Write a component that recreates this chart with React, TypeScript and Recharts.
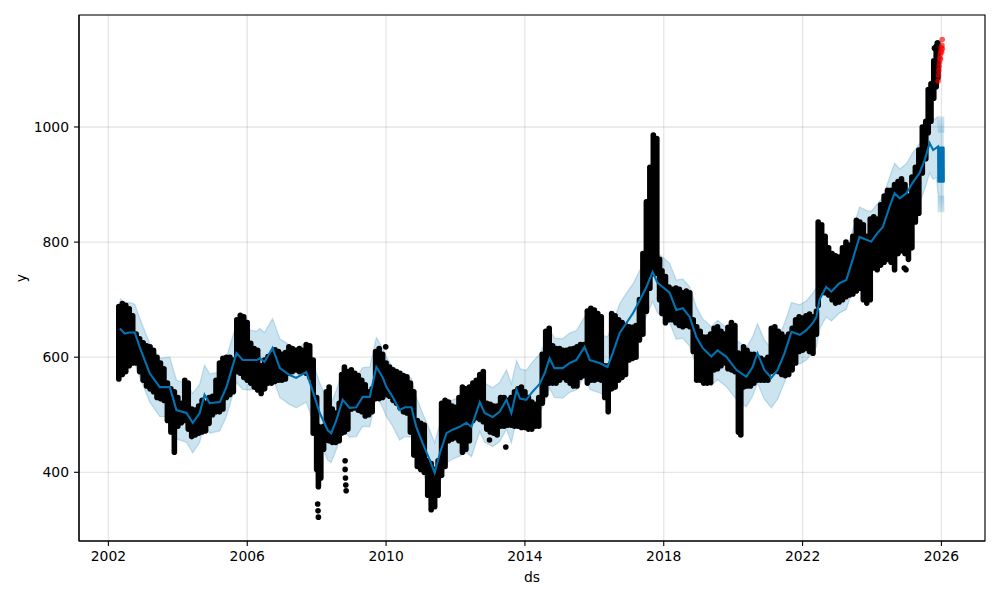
import React from 'react';
import { ComposedChart, XAxis, YAxis, CartesianGrid, Bar, Line, Area, Scatter, ReferenceArea } from 'recharts';

const X_TICKS = [2002, 2006, 2010, 2014, 2018, 2022, 2026];
const Y_TICKS = [400, 600, 800, 1000];
const X_DOMAIN: [number, number] = [2001.153, 2027.256];
const Y_DOMAIN: [number, number] = [280.6, 1194.6];

// observed history: [decimal year, low, high] of the daily points around that date
const observedRanges: [number, number, number][] = [
  [2002.30, 562, 688], [2002.40, 570, 693], [2002.50, 575, 690], [2002.60, 585, 684], [2002.70, 590, 672],
  [2002.80, 590, 640], [2002.90, 575, 632], [2003.00, 560, 625], [2003.10, 550, 620], [2003.20, 545, 618],
  [2003.30, 540, 612], [2003.40, 530, 600], [2003.50, 528, 590], [2003.60, 525, 580], [2003.70, 490, 555],
  [2003.80, 470, 545], [2003.90, 435, 540], [2004.00, 480, 530], [2004.10, 486, 520], [2004.20, 490, 560],
  [2004.30, 475, 555], [2004.40, 462, 510], [2004.50, 465, 508], [2004.60, 468, 515], [2004.70, 470, 525],
  [2004.80, 472, 520], [2004.90, 485, 530], [2005.00, 500, 532], [2005.10, 505, 560], [2005.20, 505, 590],
  [2005.30, 510, 598], [2005.40, 530, 600], [2005.50, 535, 600], [2005.60, 540, 595], [2005.70, 575, 665],
  [2005.80, 572, 673], [2005.90, 565, 670], [2006.00, 560, 660], [2006.10, 555, 624], [2006.20, 548, 615],
  [2006.30, 543, 612], [2006.40, 537, 585], [2006.50, 545, 595], [2006.60, 555, 601], [2006.70, 555, 605],
  [2006.80, 558, 613], [2006.90, 560, 610], [2007.00, 560, 605], [2007.10, 562, 608], [2007.20, 572, 618],
  [2007.30, 575, 615], [2007.40, 578, 612], [2007.50, 575, 615], [2007.60, 575, 612], [2007.70, 572, 622],
  [2007.80, 565, 620], [2007.90, 468, 595], [2008.00, 405, 530], [2008.05, 375, 480], [2008.12, 390, 470],
  [2008.20, 440, 480], [2008.28, 456, 540], [2008.36, 455, 548], [2008.45, 452, 510], [2008.55, 452, 503],
  [2008.65, 455, 520], [2008.72, 468, 570], [2008.80, 470, 583], [2008.90, 475, 575], [2009.00, 510, 578],
  [2009.10, 512, 572], [2009.20, 508, 568], [2009.30, 505, 560], [2009.40, 498, 552], [2009.50, 500, 540],
  [2009.60, 505, 545], [2009.70, 528, 610], [2009.80, 528, 615], [2009.90, 530, 605], [2010.00, 535, 590],
  [2010.10, 532, 583], [2010.20, 525, 578], [2010.30, 520, 575], [2010.40, 512, 572], [2010.50, 505, 568],
  [2010.60, 503, 566], [2010.70, 470, 555], [2010.80, 430, 540], [2010.90, 410, 490], [2011.00, 405, 485],
  [2011.10, 400, 482], [2011.20, 360, 420], [2011.30, 335, 415], [2011.40, 340, 405], [2011.50, 360, 420],
  [2011.60, 395, 520], [2011.70, 410, 525], [2011.80, 455, 522], [2011.90, 458, 515], [2012.00, 460, 513],
  [2012.10, 455, 530], [2012.20, 435, 548], [2012.30, 440, 545], [2012.40, 455, 548], [2012.50, 490, 555],
  [2012.60, 495, 560], [2012.70, 492, 570], [2012.80, 488, 575], [2012.90, 475, 520], [2013.00, 470, 518],
  [2013.10, 468, 515], [2013.20, 465, 515], [2013.30, 480, 530], [2013.40, 480, 530], [2013.50, 482, 525],
  [2013.60, 482, 530], [2013.70, 480, 540], [2013.80, 480, 545], [2013.90, 478, 548], [2014.00, 478, 540],
  [2014.10, 475, 530], [2014.20, 475, 522], [2014.30, 480, 518], [2014.40, 480, 530], [2014.50, 520, 605],
  [2014.60, 535, 645], [2014.70, 555, 650], [2014.80, 555, 620], [2014.90, 555, 615], [2015.00, 560, 615],
  [2015.10, 565, 612], [2015.20, 560, 612], [2015.30, 555, 614], [2015.40, 550, 615], [2015.50, 550, 618],
  [2015.60, 565, 622], [2015.70, 568, 622], [2015.80, 555, 680], [2015.90, 560, 685], [2016.00, 560, 682],
  [2016.10, 562, 676], [2016.20, 560, 670], [2016.30, 530, 585], [2016.40, 505, 585], [2016.50, 545, 676],
  [2016.60, 548, 672], [2016.70, 560, 665], [2016.80, 565, 660], [2016.90, 570, 655], [2017.00, 595, 653],
  [2017.10, 598, 652], [2017.20, 600, 655], [2017.30, 630, 700], [2017.40, 640, 780], [2017.50, 680, 870],
  [2017.60, 720, 930], [2017.70, 745, 986], [2017.80, 746, 980], [2017.88, 700, 770], [2017.95, 676, 750],
  [2018.05, 660, 740], [2018.15, 665, 722], [2018.25, 665, 718], [2018.35, 660, 720], [2018.45, 655, 718],
  [2018.55, 653, 712], [2018.65, 655, 715], [2018.75, 653, 712], [2018.85, 610, 665], [2018.95, 560, 653],
  [2019.05, 560, 645], [2019.15, 555, 635], [2019.25, 555, 635], [2019.35, 556, 640], [2019.45, 578, 650],
  [2019.55, 580, 653], [2019.65, 585, 645], [2019.75, 590, 640], [2019.85, 580, 652], [2019.95, 578, 660],
  [2020.05, 575, 655], [2020.15, 470, 607], [2020.22, 465, 600], [2020.30, 548, 618], [2020.40, 550, 612],
  [2020.50, 550, 605], [2020.60, 555, 605], [2020.70, 560, 600], [2020.80, 560, 598], [2020.90, 560, 595],
  [2021.00, 560, 600], [2021.10, 575, 650], [2021.20, 578, 653], [2021.30, 575, 645], [2021.40, 570, 640],
  [2021.50, 568, 635], [2021.60, 570, 640], [2021.70, 578, 650], [2021.80, 590, 665], [2021.90, 610, 670],
  [2022.00, 612, 668], [2022.10, 615, 672], [2022.20, 610, 675], [2022.30, 607, 670], [2022.40, 640, 680],
  [2022.45, 690, 835], [2022.55, 715, 830], [2022.65, 712, 810], [2022.75, 708, 790], [2022.85, 700, 780],
  [2022.95, 694, 776], [2023.05, 696, 774], [2023.15, 700, 790], [2023.25, 705, 800], [2023.35, 708, 795],
  [2023.45, 710, 810], [2023.55, 715, 838], [2023.65, 720, 835], [2023.75, 700, 830], [2023.85, 694, 810],
  [2023.95, 700, 840], [2024.05, 755, 844], [2024.15, 752, 840], [2024.25, 760, 865], [2024.35, 765, 880],
  [2024.45, 770, 890], [2024.55, 765, 890], [2024.65, 752, 900], [2024.75, 780, 905], [2024.85, 785, 910],
  [2024.95, 780, 900], [2025.05, 770, 880], [2025.15, 790, 913], [2025.25, 835, 930], [2025.35, 850, 960],
  [2025.45, 920, 1000], [2025.55, 945, 1010], [2025.62, 990, 1065], [2025.70, 1010, 1075], [2025.78, 1050, 1115],
  [2025.85, 1070, 1140], [2025.90, 1085, 1146],
];

// isolated observed points
const observedPoints: [number, number][] = [
  [2008.03, 345], [2008.04, 333], [2008.05, 322], [2008.82, 420], [2008.82, 405], [2008.83, 390],
  [2008.84, 378], [2008.85, 368], [2009.99, 618], [2012.98, 456], [2013.45, 444], [2020.20, 468],
  [2024.93, 755], [2024.98, 752], [2025.80, 1137], [2025.88, 1146],
];

// actual values in the forecast window (red)
const actualPoints: [number, number][] = [
  [2025.905, 1080], [2025.915, 1090], [2025.925, 1098], [2025.935, 1105], [2025.945, 1112],
  [2025.955, 1120], [2025.965, 1126], [2025.975, 1118], [2025.985, 1132], [2025.995, 1138],
  [2026.005, 1130], [2026.015, 1142], [2026.025, 1152], [2026.030, 1136],
];

// fitted forecast: [decimal year, yhat, yhat_lower, yhat_upper]
const fitted: [number, number, number, number][] = [
  [2002.33, 650, 598, 702], [2002.47, 641, 590, 694], [2002.61, 643, 592, 695], [2002.76, 643, 590, 692],
  [2002.90, 618, 566, 668], [2003.19, 572, 522, 624], [2003.48, 548, 497, 598], [2003.77, 548, 496, 600],
  [2003.96, 508, 458, 560], [2004.25, 503, 452, 554], [2004.43, 486, 434, 537], [2004.63, 503, 452, 553],
  [2004.77, 535, 484, 586], [2004.92, 520, 468, 571], [2005.21, 522, 472, 574], [2005.40, 548, 497, 600],
  [2005.69, 607, 556, 658], [2005.87, 595, 544, 646], [2006.07, 595, 543, 647], [2006.27, 595, 545, 645],
  [2006.36, 598, 546, 650], [2006.50, 592, 540, 643], [2006.73, 616, 565, 667], [2006.94, 581, 530, 632],
  [2007.22, 569, 518, 621], [2007.41, 564, 512, 615], [2007.70, 574, 522, 625], [2007.85, 548, 497, 600],
  [2008.09, 503, 452, 555], [2008.32, 473, 421, 524], [2008.42, 468, 417, 520], [2008.57, 491, 440, 543],
  [2008.75, 526, 474, 577], [2008.95, 512, 461, 563], [2009.14, 513, 462, 565], [2009.33, 531, 480, 582],
  [2009.53, 531, 479, 583], [2009.72, 583, 532, 634], [2009.90, 565, 513, 616], [2010.01, 548, 497, 600],
  [2010.19, 531, 480, 583], [2010.39, 508, 456, 559], [2010.54, 513, 462, 565], [2010.73, 513, 461, 564],
  [2010.87, 479, 428, 531], [2011.05, 451, 400, 503], [2011.26, 421, 370, 473], [2011.40, 399, 348, 451],
  [2011.55, 433, 382, 485], [2011.74, 468, 416, 519], [2011.92, 474, 423, 526], [2012.12, 479, 428, 530],
  [2012.31, 486, 435, 538], [2012.46, 479, 427, 531], [2012.70, 522, 471, 573], [2012.84, 503, 452, 555],
  [2013.07, 496, 445, 547], [2013.27, 505, 453, 556], [2013.47, 526, 475, 578], [2013.61, 503, 451, 554],
  [2013.76, 543, 492, 594], [2013.86, 528, 477, 580], [2014.04, 526, 474, 577], [2014.22, 540, 489, 592],
  [2014.42, 553, 502, 605], [2014.57, 572, 521, 624], [2014.71, 598, 546, 649], [2014.85, 581, 530, 633],
  [2015.09, 581, 529, 632], [2015.29, 590, 539, 642], [2015.48, 595, 543, 646], [2015.72, 618, 567, 670],
  [2015.87, 595, 544, 647], [2016.15, 590, 538, 641], [2016.38, 583, 532, 635], [2016.53, 607, 556, 659],
  [2016.73, 642, 590, 693], [2016.92, 659, 608, 711], [2017.11, 676, 624, 727], [2017.31, 699, 648, 751],
  [2017.50, 722, 671, 774], [2017.68, 748, 697, 800], [2017.82, 729, 677, 780], [2017.97, 722, 671, 774],
  [2018.17, 712, 660, 763], [2018.36, 682, 631, 734], [2018.55, 685, 633, 736], [2018.75, 670, 619, 722],
  [2018.94, 635, 584, 687], [2019.12, 616, 564, 667], [2019.37, 601, 550, 653], [2019.55, 612, 561, 664],
  [2019.80, 601, 549, 652], [2020.09, 578, 527, 630], [2020.38, 566, 514, 617], [2020.56, 583, 532, 635],
  [2020.70, 607, 555, 658], [2020.90, 578, 527, 630], [2021.10, 564, 512, 615], [2021.28, 578, 527, 630],
  [2021.48, 607, 556, 659], [2021.68, 644, 592, 695], [2021.92, 639, 588, 691], [2022.11, 647, 595, 698],
  [2022.29, 659, 608, 711], [2022.40, 670, 618, 721], [2022.49, 700, 649, 752], [2022.68, 722, 670, 773],
  [2022.83, 714, 663, 766], [2023.07, 729, 677, 780], [2023.26, 734, 683, 786], [2023.44, 769, 717, 820],
  [2023.64, 809, 758, 861], [2023.84, 804, 752, 855], [2023.98, 801, 750, 853], [2024.16, 816, 764, 867],
  [2024.31, 826, 775, 878], [2024.51, 862, 810, 913], [2024.65, 885, 834, 937], [2024.80, 876, 824, 927],
  [2024.99, 885, 833, 936], [2025.17, 903, 852, 955], [2025.37, 920, 868, 971], [2025.52, 943, 892, 995],
  [2025.66, 972, 920, 1023], [2025.76, 960, 909, 1012], [2025.86, 964, 912, 1016],
];

// future forecast window (fine-grained, oscillating)
const future: [number, number, number, number][] = [
  [2025.905, 966, 880, 1018], [2025.910, 904, 852, 992], [2025.915, 965, 878, 1017], [2025.920, 905, 853, 990],
  [2025.925, 966, 881, 1018], [2025.930, 903, 852, 991], [2025.935, 964, 879, 1016], [2025.940, 906, 854, 992],
  [2025.945, 965, 880, 1018], [2025.950, 904, 852, 990], [2025.955, 966, 881, 1017], [2025.960, 905, 853, 991],
  [2025.965, 965, 880, 1018], [2025.970, 903, 852, 992], [2025.975, 966, 879, 1016], [2025.980, 904, 853, 990],
  [2025.985, 964, 880, 1018], [2025.990, 905, 852, 991], [2025.995, 966, 881, 1017], [2026.000, 906, 854, 992],
  [2026.005, 965, 880, 1018], [2026.010, 904, 852, 990], [2026.015, 966, 879, 1017], [2026.020, 903, 853, 991],
  [2026.025, 965, 880, 1018], [2026.030, 905, 852, 992], [2026.035, 966, 881, 1016], [2026.040, 904, 853, 990],
  [2026.045, 964, 880, 1018], [2026.050, 905, 852, 991], [2026.055, 966, 879, 1017], [2026.060, 903, 854, 992],
  [2026.065, 965, 880, 1018], [2026.070, 905, 852, 990],
];

const obsData = observedRanges.map(([t, lo, hi]) => ({ t, range: [lo, hi] }));
const fcData = [...fitted, ...future].map(([t, yhat, lower, upper]) => ({ t, yhat, band: [lower, upper] }));
const dotData = observedPoints.map(([t, y]) => ({ t, y }));
const redData = actualPoints.map(([t, y]) => ({ t, y }));

const FONT = 'DejaVu Sans, sans-serif';
const tickStyle = { fill: '#000', fontSize: 13.9, fontFamily: FONT };
const R = 2.8;

const blackDot = (p: any) => <circle cx={p.cx} cy={p.cy} r={R} fill="#000" />;
const redDot = (p: any) => <circle cx={p.cx} cy={p.cy} r={R} fill="#ff0000" fillOpacity={0.65} />;
// a vertical run of dots: capsule spanning the scaled low..high of the points
const dotRun = (p: any) => {
  if (p.x == null || p.y == null) return <g />;
  const cx = p.x + (p.width || 0) / 2;
  const top = Math.min(p.y, p.y + p.height);
  const h = Math.abs(p.height || 0);
  return <rect x={cx - R} y={top - R} width={2 * R} height={h + 2 * R} rx={R} ry={R} fill="#000" />;
};

const yLabel = (props: any) => {
  const vb = props.viewBox || { x: 0, y: 0, width: 0, height: 0 };
  const x = vb.x + 21;
  const y = vb.y + vb.height / 2;
  return (
    <text x={x} y={y} transform={`rotate(-90, ${x}, ${y})`} textAnchor="middle" dominantBaseline="central"
      fill="#000" fontSize={13.9} fontFamily={FONT}>y</text>
  );
};

export default function App() {
  return (
    <div style={{ position: 'absolute', left: 0, top: 0, width: 1000, height: 600, background: '#fff' }}>
      <ComposedChart width={1000} height={600} data={obsData} margin={{ top: 15, right: 15, bottom: 0, left: 0 }}>
        <CartesianGrid stroke="#808080" strokeOpacity={0.2} strokeWidth={1.3} />
        <XAxis
          type="number"
          dataKey="t"
          domain={X_DOMAIN}
          ticks={X_TICKS}
          allowDataOverflow
          height={59}
          tickSize={5}
          tickMargin={5}
          tick={tickStyle}
          tickLine={{ stroke: '#000', strokeWidth: 1.1 }}
          axisLine={{ stroke: '#000', strokeWidth: 1.1 }}
          label={{ value: 'ds', position: 'insideBottom', offset: 18, fill: '#000', fontSize: 13.9, fontFamily: FONT }}
        />
        <YAxis
          type="number"
          domain={Y_DOMAIN}
          ticks={Y_TICKS}
          allowDataOverflow
          width={79}
          tickSize={5}
          tickMargin={5}
          tick={tickStyle}
          tickLine={{ stroke: '#000', strokeWidth: 1.1 }}
          axisLine={{ stroke: '#000', strokeWidth: 1.1 }}
          label={{ value: 'y', position: 'insideLeft', content: yLabel }}
        />
        <Bar dataKey="range" fill="#000" shape={dotRun} isAnimationActive={false} />
        <Scatter data={dotData} dataKey="y" fill="#000" shape={blackDot} isAnimationActive={false} />
        <Line data={fcData} dataKey="yhat" type="linear" stroke="#0072B2" strokeWidth={2.1} dot={false} activeDot={false} isAnimationActive={false} />
        <Area data={fcData} dataKey="band" type="linear" stroke="#0072B2" strokeOpacity={0.2} strokeWidth={1.3} fill="#0072B2" fillOpacity={0.2} dot={false} activeDot={false} isAnimationActive={false} />
        <Scatter data={redData} dataKey="y" fill="#ff0000" shape={redDot} isAnimationActive={false} />
        <ReferenceArea x1={X_DOMAIN[0]} x2={X_DOMAIN[1]} y1={Y_DOMAIN[0]} y2={Y_DOMAIN[1]} fill="none" stroke="#000" strokeWidth={1.1} ifOverflow="visible" />
      </ComposedChart>
    </div>
  );
}
